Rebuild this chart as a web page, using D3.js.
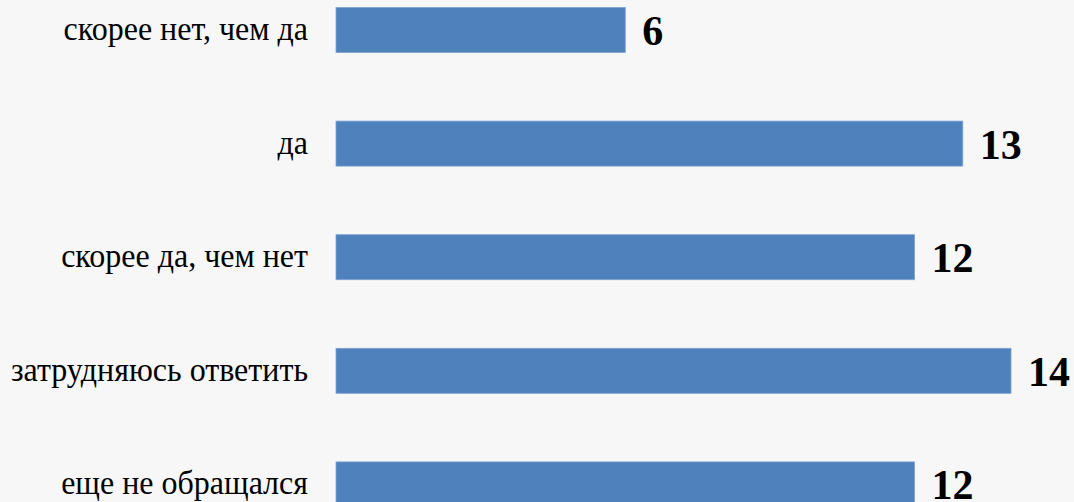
<!DOCTYPE html>
<html>
<head>
<meta charset="utf-8">
<script src="https://cdn.jsdelivr.net/npm/d3@7"></script>
<style>
  html, body { margin: 0; padding: 0; background: #f7f7f7; }
  svg { display: block; }
</style>
</head>
<body>
<svg id="chart" width="1074" height="502"></svg>
<script>
const categories = ["скорее нет, чем да", "да", "скорее да, чем нет", "затрудняюсь ответить", "еще не обращался"];
const values = [6, 13, 12, 14, 12];

const svg = d3.select("#chart");
svg.append("rect").attr("width", 1074).attr("height", 502).attr("fill", "#f7f7f7");

const x = d3.scaleLinear().domain([0, 14]).range([336, 1011]);
const step = 113.6;
const y = d3.scaleBand()
  .domain(categories)
  .range([-26.8, -26.8 + step * 5])
  .paddingInner(0.604)
  .paddingOuter(0.302);

const data = categories.map((c, i) => ({ c, v: values[i] }));

svg.selectAll("rect.bar").data(data).enter().append("rect")
  .attr("class", "bar")
  .attr("x", x(0))
  .attr("y", d => y(d.c))
  .attr("width", d => x(d.v) - x(0))
  .attr("height", y.bandwidth())
  .attr("fill", "#4f81bd")
  .attr("stroke", "#7ea3d2")
  .attr("stroke-width", 0.8);

svg.selectAll("text.cat").data(data).enter().append("text")
  .attr("class", "cat")
  .attr("transform", d => `translate(308,${y(d.c) + y.bandwidth() / 2 + 10}) scale(1,1.08)`)
  .attr("text-anchor", "end")
  .attr("font-family", "'Liberation Serif', 'Times New Roman', serif")
  .attr("font-size", 32)
  .attr("fill", "#000")
  .text(d => d.c);

svg.selectAll("text.val").data(data).enter().append("text")
  .attr("class", "val")
  .attr("x", d => x(d.v) + 17)
  .attr("y", d => y(d.c) + y.bandwidth() / 2 + 15)
  .attr("font-family", "'Liberation Serif', 'Times New Roman', serif")
  .attr("font-weight", "bold")
  .attr("font-size", 42)
  .attr("fill", "#000")
  .text(d => d.v);
</script>
</body>
</html>
